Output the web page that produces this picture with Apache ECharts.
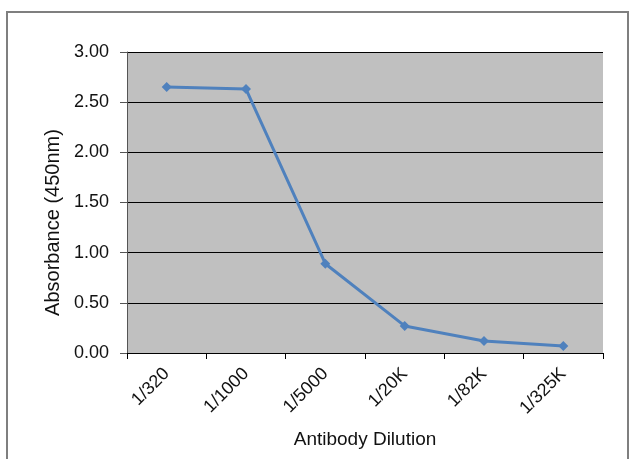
<!DOCTYPE html>
<html><head><meta charset="utf-8">
<script src="https://cdn.jsdelivr.net/npm/echarts@6/dist/echarts.min.js"></script>
<style>html,body{margin:0;padding:0;background:#fff;}#c{width:639px;height:459px;}</style>
</head><body><div id="c"></div>
<script>
const categories = ['1/320','1/1000','1/5000','1/20K','1/82K','1/325K'];
const absorbance = [2.65, 2.63, 0.89, 0.27, 0.12, 0.07];
const yTicks = {min: 0, max: 3, interval: 0.5};

const chart = echarts.init(document.getElementById('c'));
chart.setOption({
  animation: false,
  backgroundColor: '#fff',
  graphic: [{
    type: 'rect', shape: {x: 7, y: 12, width: 621, height: 460},
    style: {fill: 'none', stroke: '#7f7f7f', lineWidth: 2}, silent: true
  }],
  grid: {left: 127, right: 36, top: 52, bottom: 106, show: true, backgroundColor: '#c0c0c0', borderWidth: 0},
  xAxis: {
    type: 'category', data: categories, boundaryGap: true,
    name: 'Antibody Dilution', nameLocation: 'middle', nameGap: 77,
    nameTextStyle: {fontFamily: 'Liberation Sans', fontSize: 19, color: '#111'},
    axisLine: {lineStyle: {color: '#000', width: 1}},
    axisTick: {show: true, length: 6, lineStyle: {color: '#000'}},
    axisLabel: {rotate: 45, margin: 18, fontFamily: 'Liberation Sans', fontSize: 18, color: '#111'}
  },
  yAxis: {
    type: 'value', min: yTicks.min, max: yTicks.max, interval: yTicks.interval,
    name: 'Absorbance (450nm)', nameLocation: 'middle', nameGap: 63,
    nameTextStyle: {fontFamily: 'Liberation Sans', fontSize: 20, color: '#111', padding: [0, 40, 0, 0]},
    axisLine: {show: true, lineStyle: {color: '#555', width: 1}},
    axisTick: {show: true, length: 7, lineStyle: {color: '#555'}},
    axisLabel: {formatter: v => v.toFixed(2), margin: 18, fontFamily: 'Liberation Sans', fontSize: 18, color: '#111'},
    splitLine: {show: true, lineStyle: {color: '#000', width: 1}}
  },
  series: [{
    type: 'line', data: absorbance,
    symbol: 'diamond', symbolSize: 10,
    lineStyle: {color: '#4f81bd', width: 3},
    itemStyle: {color: '#4f81bd'}
  }]
});
</script></body></html>
